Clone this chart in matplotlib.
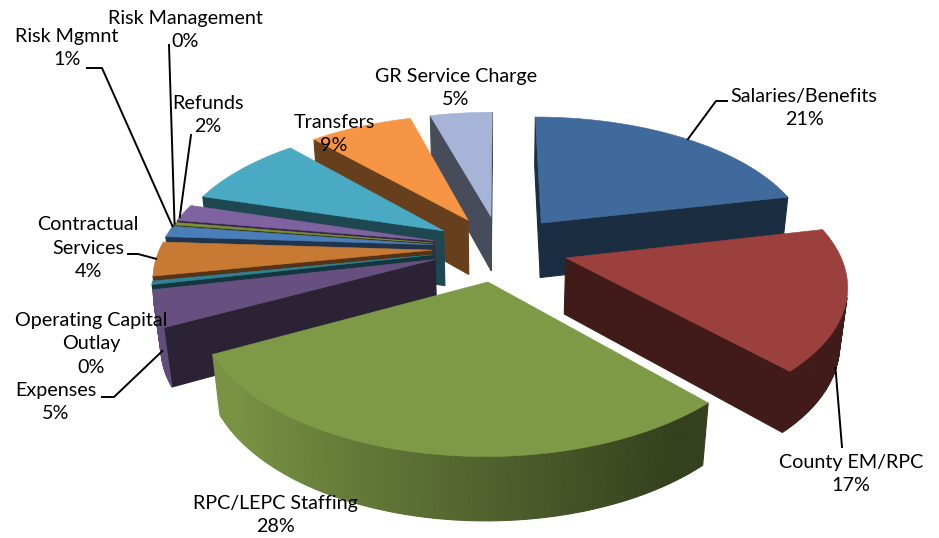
import matplotlib
matplotlib.use("Agg")
import matplotlib.pyplot as plt
import numpy as np

plt.rcParams["font.family"] = ["Lato", "DejaVu Sans"]

# slices clockwise from 12 o'clock, sizes estimated from the drawn angles
categories = ["Salaries/Benefits", "County EM/RPC", "RPC/LEPC Staffing", "Expenses",
              "Operating Capital Outlay", "Contractual Services", "Risk Mgmnt",
              "Risk Management", "Refunds", "Other", "Transfers", "GR Service Charge"]
values = [21.4, 16.5, 29.1, 4.2, 0.4, 4, 1.3, 0.3, 2, 8.6, 7.3, 4.4]
colors = ["#3f6a9b", "#9b403d", "#7f9a47", "#67507f", "#2f8296", "#c87a35",
          "#4b7db8", "#7d8f3c", "#7f62a0", "#4aaac3", "#f69544", "#a6b5d7"]

# projection settings, in pixels
CX, CY = 500, 248
RADIUS = 272
EXPLODE = 68
HEIGHT = 65
TILT = np.radians(29)
DIST = 1400


def project(x, y, z):
    # y is towards the viewer, z is up
    depth = y * np.cos(TILT) + z * np.sin(TILT)
    s = DIST / (DIST - depth)
    return CX + x * s, CY + (y * np.sin(TILT) - z * np.cos(TILT)) * s


def darken(color, f):
    rgb = np.array(matplotlib.colors.to_rgb(color))
    return tuple(np.clip(rgb * f, 0, 1))


def area(pts):
    x, y = np.array(pts).T
    return 0.5 * np.sum(x * np.roll(y, -1) - np.roll(x, -1) * y)


fig = plt.figure(figsize=(9.39, 5.38), dpi=100)
ax = fig.add_axes([0, 0, 1, 1])
ax.set_xlim(0, 939)
ax.set_ylim(538, 0)
ax.axis("off")

fractions = np.array(values) / np.sum(values)
edges = np.concatenate([[0], np.cumsum(fractions)]) * 2 * np.pi
mids = (edges[:-1] + edges[1:]) / 2


def rim(i, theta, z=0.0, r=RADIUS):
    ox = EXPLODE * np.sin(mids[i])
    oy = -EXPLODE * np.cos(mids[i])
    return project(ox + r * np.sin(theta), oy - r * np.cos(theta), z)


def draw_slice(i):
    th = np.linspace(edges[i], edges[i + 1], max(4, int(values[i] * 5)))
    color = colors[i]
    wall = darken(color, 0.42)
    apex_t, apex_b = rim(i, th[0], 0, 0), rim(i, th[0], -HEIGHT, 0)
    # radial faces, only the one turned to the viewer
    for t, sign in ((th[0], -1), (th[-1], 1)):
        q = [apex_t, rim(i, t), rim(i, t, -HEIGHT), apex_b]
        if area(q) * sign > 0:
            ax.fill(*zip(*q), color=wall, lw=0.8, zorder=2 + order[i])
    # outer wall as strips, lit from the left
    for a, b in zip(th[:-1], th[1:]):
        q = [rim(i, a), rim(i, b), rim(i, b, -HEIGHT), rim(i, a, -HEIGHT)]
        if area(q) > 0:
            continue
        lit = np.clip((0.55 - np.sin((a + b) / 2)) / 1.35, 0, 1)
        ax.fill(*zip(*q), color=darken(color, 0.42 + 0.53 * lit), lw=0.8, zorder=2 + order[i])
    # top
    top = [apex_t] + [rim(i, t) for t in th]
    ax.fill(*zip(*top), color=color, lw=0.4, zorder=2.5 + order[i])


order = {i: rank for rank, i in enumerate(np.argsort(-np.cos(mids)))}
for i in range(len(values)):
    draw_slice(i)

# leader lines: slice index, position along the arc, depth on the rim, elbow points
leaders = [
    (0, 0.52, 0, [(716, 101), (727, 101)]),
    (1, 0.58, -62, [(842, 447)]),
    (3, 0.35, -40, [(114, 397), (102, 397)]),
    (5, 0.5, 0, [(138, 254), (128, 254)]),
    (6, 1.0, 0, [(102, 68), (87, 68)]),
    (7, 0.5, 0, [(169, 45)]),
    (8, 0.2, 0, [(191, 135)]),
]
for i, frac, z, pts in leaders:
    theta = edges[i] + frac * (edges[i + 1] - edges[i])
    start = rim(i, theta, z)
    xs, ys = zip(start, *pts)
    ax.plot(xs, ys, color="black", lw=1.4, zorder=40)

# data labels
labels = [
    (804, 108, "Salaries/Benefits\n21%"),
    (851, 474, "County EM/RPC\n17%"),
    (275, 515, "RPC/LEPC Staffing\n28%"),
    (56, 402, "Expenses\n5%"),
    (91, 344, "Operating Capital\nOutlay\n0%"),
    (88, 248, "Contractual\nServices\n4%"),
    (67, 48, "Risk Mgmnt\n1%"),
    (185, 30, "Risk Management\n0%"),
    (208, 115, "Refunds\n2%"),
    (334, 134, "Transfers\n9%"),
    (456, 88, "GR Service Charge\n5%"),
]
for x, y, text in labels:
    ax.text(x, y, text, ha="center", va="center", fontsize=14.2, color="black",
            linespacing=1.43, zorder=50)

fig.savefig("out.png", dpi=100)
